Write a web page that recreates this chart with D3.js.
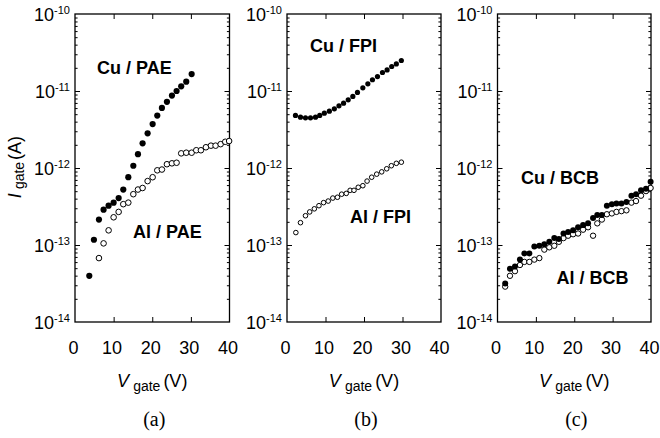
<!DOCTYPE html>
<html><head><meta charset="utf-8">
<script src="https://cdn.jsdelivr.net/npm/d3@7"></script>
<style>body{margin:0;background:#fff} svg{display:block}</style>
</head><body><svg id="c" width="660" height="438"></svg>
<script>
// ---- data ----
const xTicks = [0, 10, 20, 30, 40];
const yDecades = [1e-14, 1e-13, 1e-12, 1e-11, 1e-10];
const yExp = ["-14", "-13", "-12", "-11", "-10"];
const panelLetters = ["(a)", "(b)", "(c)"];

// (a) PAE
const paeCuV = [3.7,4.9,6.2,7.4,8.7,10.0,11.3,12.5,13.8,15.1,16.3,17.5,18.8,20.1,21.3,22.5,23.8,25.1,26.3,27.5,28.8,30.2];
const paeCuI = [3.98e-14,1.17e-13,2.14e-13,2.88e-13,3.24e-13,3.55e-13,4.07e-13,5.25e-13,7.59e-13,1.07e-12,1.51e-12,2.09e-12,2.82e-12,3.72e-12,4.79e-12,6.03e-12,7.24e-12,8.71e-12,1.00e-11,1.15e-11,1.32e-11,1.66e-11];
const paeAlV = [6.2,7.4,8.7,10.0,11.3,12.5,13.8,15.1,16.3,17.5,18.8,20.1,21.3,22.5,23.8,25.1,26.3,27.5,28.8,30.2,31.4,32.6,33.9,35.2,36.4,37.7,38.9,39.9];
const paeAlI = [6.76e-14,1.05e-13,1.55e-13,2.29e-13,2.69e-13,3.39e-13,3.55e-13,4.57e-13,5.25e-13,5.50e-13,6.76e-13,7.59e-13,9.33e-13,9.55e-13,1.12e-12,1.15e-12,1.17e-12,1.55e-12,1.58e-12,1.58e-12,1.70e-12,1.70e-12,1.86e-12,1.95e-12,1.95e-12,2.04e-12,2.19e-12,2.24e-12];

// (b) FPI
const fpiCuV = [2.2,3.5,4.8,6.1,7.4,8.5,9.7,11.0,12.3,13.5,14.7,15.9,17.1,18.3,19.7,21.0,22.2,23.5,24.8,26.0,27.2,28.4,29.7];
const fpiCuI = [4.81e-12,4.57e-12,4.49e-12,4.49e-12,4.57e-12,4.81e-12,5.15e-12,5.47e-12,5.86e-12,6.41e-12,6.95e-12,7.67e-12,8.49e-12,9.57e-12,1.10e-11,1.24e-11,1.40e-11,1.54e-11,1.74e-11,1.88e-11,2.08e-11,2.25e-11,2.49e-11];
const fpiAlV = [2.3,3.5,4.8,5.9,7.1,8.3,9.5,10.7,11.9,13.1,14.2,15.4,16.4,17.4,18.5,19.7,20.8,22.0,23.3,24.6,25.9,27.1,28.4,29.7];
const fpiAlI = [1.45e-13,1.95e-13,2.40e-13,2.69e-13,2.95e-13,3.24e-13,3.55e-13,3.72e-13,4.07e-13,4.17e-13,4.57e-13,4.68e-13,5.13e-13,5.13e-13,5.62e-13,5.89e-13,6.76e-13,7.59e-13,8.32e-13,8.91e-13,9.77e-13,1.07e-12,1.15e-12,1.19e-12];

// (c) BCB
const bcbV = [2.0,3.25,4.55,5.85,7.0,8.3,9.6,10.9,12.2,13.5,14.8,16.0,17.2,18.4,19.7,21.0,22.3,23.6,24.9,26.0,27.2,28.5,29.8,31.0,32.3,33.6,34.9,36.1,37.4,38.7,39.9];
const bcbCuI = [3.16e-14,4.90e-14,5.25e-14,6.46e-14,7.76e-14,7.76e-14,9.55e-14,9.77e-14,1.02e-13,1.10e-13,1.23e-13,1.20e-13,1.41e-13,1.48e-13,1.55e-13,1.70e-13,1.82e-13,1.91e-13,2.24e-13,2.45e-13,2.45e-13,3.24e-13,3.39e-13,3.47e-13,3.47e-13,3.63e-13,4.37e-13,4.57e-13,5.13e-13,5.37e-13,6.61e-13];
const bcbAlI = [2.88e-14,3.98e-14,4.57e-14,5.50e-14,6.03e-14,6.03e-14,6.46e-14,6.76e-14,8.71e-14,9.33e-14,9.77e-14,1.10e-13,1.23e-13,1.32e-13,1.38e-13,1.41e-13,1.58e-13,1.70e-13,1.32e-13,1.91e-13,2.14e-13,2.51e-13,2.57e-13,2.69e-13,2.75e-13,2.82e-13,3.55e-13,3.72e-13,4.37e-13,5.01e-13,5.50e-13];

const seriesLabels = [["Cu / PAE","Al / PAE"],["Cu / FPI","Al / FPI"],["Cu / BCB","Al / BCB"]];

// ---- layout ----
const H = 308, TOP = 14;
const panels = [
  {left: 75,    w: 154.5, cu: [paeCuV, paeCuI], al: [paeAlV, paeAlI], r: 3.1, lab: [[22, 60], [58, 224]]},
  {left: 287,   w: 154,   cu: [fpiCuV, fpiCuI], al: [fpiAlV, fpiAlI], r: 2.6, lab: [[23, 38], [63, 209]]},
  {left: 497.5, w: 153.5, cu: [bcbV, bcbCuI],   al: [bcbV, bcbAlI],   r: 3.0, lab: [[23.5, 170], [59, 269.5]]}
];

const FONT = "'Liberation Sans', Arial, Helvetica, sans-serif";
const svg = d3.select("#c");
const y = d3.scaleLog().domain([1e-14, 1e-10]).range([H, 0]);

const minors = [];
for (let e = -14; e < -10; e++) for (let k = 2; k <= 9; k++) minors.push(k * Math.pow(10, e));

panels.forEach((p, pi) => {
  const W = p.w;
  const x = d3.scaleLinear().domain([0, 40]).range([0, W]);
  const g = svg.append("g").attr("transform", `translate(${p.left},${TOP})`);

  const tickStyle = sel => { sel.select(".domain").remove(); sel.selectAll("line").attr("stroke", "#000").attr("stroke-width", 1); sel.selectAll("text").remove(); };
  g.append("g").call(d3.axisLeft(y).tickValues(yDecades.slice(1, 4)).tickSize(-5).tickFormat("")).call(tickStyle);
  g.append("g").call(d3.axisLeft(y).tickValues(minors).tickSize(-2.6).tickFormat("")).call(tickStyle);
  g.append("g").attr("transform", `translate(${W},0)`).call(d3.axisRight(y).tickValues(yDecades.slice(1, 4)).tickSize(-5).tickFormat("")).call(tickStyle);
  g.append("g").attr("transform", `translate(${W},0)`).call(d3.axisRight(y).tickValues(minors).tickSize(-2.6).tickFormat("")).call(tickStyle);
  g.append("g").attr("transform", `translate(0,${H})`).call(d3.axisBottom(x).tickValues([10, 20, 30]).tickSize(-5).tickFormat("")).call(tickStyle);
  g.append("g").call(d3.axisTop(x).tickValues([10, 20, 30]).tickSize(-5).tickFormat("")).call(tickStyle);

  g.append("rect").attr("width", W).attr("height", H).attr("fill", "none").attr("stroke", "#000").attr("stroke-width", 1.3);

  const yl = g.append("g").attr("font-family", FONT).attr("fill", "#000");
  yDecades.forEach((d, i) => {
    const t = yl.append("text").attr("x", -5).attr("y", y(d) + 7).attr("text-anchor", "end").attr("font-size", 18);
    t.append("tspan").text("10");
    t.append("tspan").attr("font-size", 11).attr("dy", -7).text(yExp[i]);
  });

  g.append("g").selectAll("text").data(xTicks).join("text")
    .attr("x", d => x(d) - 1.5).attr("y", 340).attr("text-anchor", "middle")
    .attr("font-family", FONT).attr("font-size", 18).attr("fill", "#000").text(d => d);

  const xt = g.append("text").attr("x", W / 2).attr("y", 372.5).attr("text-anchor", "middle")
    .attr("font-family", FONT).attr("font-size", 18).attr("fill", "#000");
  xt.append("tspan").attr("font-style", "italic").text("V");
  xt.append("tspan").attr("font-size", 14).attr("dx", 4).attr("dy", 4).text("gate");
  xt.append("tspan").attr("dx", 3).attr("dy", -4).text("(V)");

  g.append("text").attr("x", W / 2 + 2).attr("y", 412).attr("text-anchor", "middle")
    .attr("font-family", "'Liberation Serif', 'Times New Roman', serif").attr("font-size", 20).attr("fill", "#000")
    .text(panelLetters[pi]);

  const alData = p.al[0].map((v, i) => [v, p.al[1][i]]);
  const cuData = p.cu[0].map((v, i) => [v, p.cu[1][i]]);
  g.append("g").selectAll("circle").data(alData).join("circle")
    .attr("cx", d => x(d[0])).attr("cy", d => y(d[1])).attr("r", p.r - 0.3)
    .attr("fill", "#fff").attr("stroke", "#000").attr("stroke-width", 1);
  g.append("g").selectAll("circle").data(cuData).join("circle")
    .attr("cx", d => x(d[0])).attr("cy", d => y(d[1])).attr("r", p.r)
    .attr("fill", "#000");

  p.lab.forEach((pos, li) => {
    g.append("text").attr("x", pos[0]).attr("y", pos[1]).attr("font-family", FONT)
      .attr("font-weight", "bold").attr("font-size", 18).attr("fill", "#000").text(seriesLabels[pi][li]);
  });
});

const yt = svg.append("text").attr("transform", "translate(21,167) rotate(-90)").attr("text-anchor", "middle")
  .attr("font-family", FONT).attr("font-size", 18).attr("fill", "#000");
yt.append("tspan").attr("font-style", "italic").text("I");
yt.append("tspan").attr("font-size", 14).attr("dx", 4).attr("dy", 3).text("gate");
yt.append("tspan").attr("dx", 2).attr("dy", -3).text("(A)");
</script></body></html>
